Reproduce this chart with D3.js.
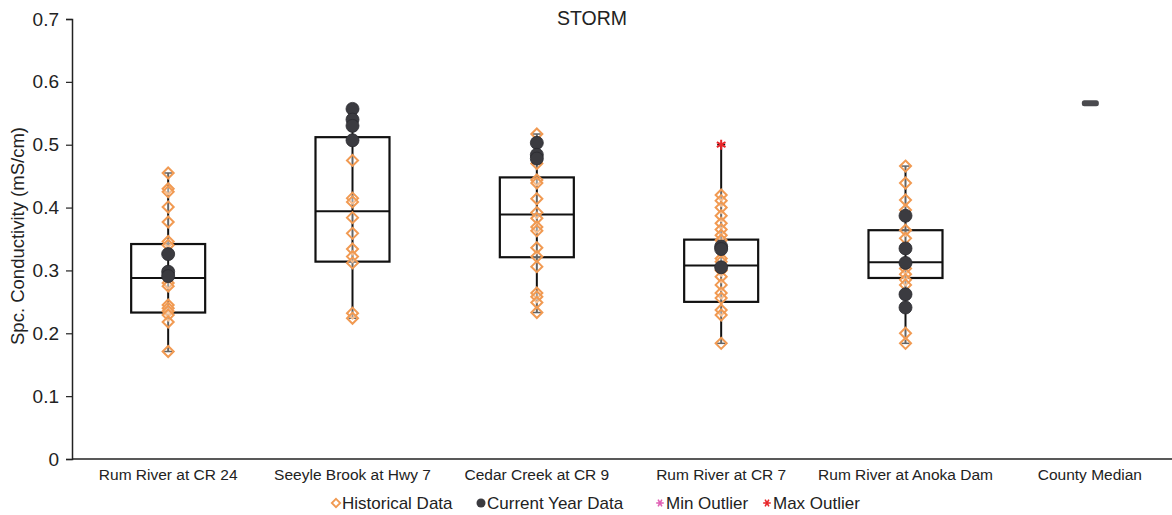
<!DOCTYPE html>
<html>
<head>
<meta charset="utf-8">
<script src="https://cdn.jsdelivr.net/npm/d3@7"></script>
<style>
  body { margin: 0; background: #fff; }
  text { font-family: "Liberation Sans", Arial, sans-serif; fill: #222; }
</style>
</head>
<body>
<svg width="1172" height="515"></svg>
<script>
// sites along the x axis
let sites = ["Rum River at CR 24", "Seeyle Brook at Hwy 7", "Cedar Creek at CR 9",
    "Rum River at CR 7", "Rum River at Anoka Dam", "County Median"];

// box stats per site: [whisker low, q1, median, q3, whisker high]
let boxStats = [
    [0.171, 0.233, 0.288, 0.342, 0.455],
    [0.224, 0.314, 0.394, 0.512, 0.557],
    [0.233, 0.321, 0.389, 0.448, 0.517],
    [0.184, 0.250, 0.308, 0.349, 0.500],
    [0.184, 0.288, 0.313, 0.364, 0.466]
];

// historical readings
let historical = [
    [0.455, 0.430, 0.425, 0.401, 0.377, 0.346, 0.340, 0.280, 0.275, 0.245, 0.240, 0.235, 0.229, 0.218, 0.171],
    [0.475, 0.415, 0.409, 0.384, 0.359, 0.334, 0.322, 0.312, 0.232, 0.224],
    [0.517, 0.470, 0.444, 0.439, 0.414, 0.392, 0.383, 0.369, 0.363, 0.336, 0.322, 0.306, 0.264, 0.258, 0.249, 0.233],
    [0.420, 0.411, 0.400, 0.387, 0.375, 0.365, 0.356, 0.348, 0.319, 0.314, 0.300, 0.290, 0.277, 0.264, 0.256, 0.237, 0.229, 0.184],
    [0.466, 0.439, 0.412, 0.396, 0.364, 0.351, 0.303, 0.294, 0.285, 0.277, 0.200, 0.184]
];

// current year readings
let current = [
    [0.326, 0.298, 0.291],
    [0.557, 0.540, 0.530, 0.507],
    [0.503, 0.484, 0.478],
    [0.338, 0.334, 0.305],
    [0.387, 0.335, 0.312, 0.262, 0.241]
];

let maxOutliers = [[], [], [], [0.500], []];
let countyMedian = 0.566;

let yTicks = [0, 0.1, 0.2, 0.3, 0.4, 0.5, 0.6, 0.7];

let svg = d3.select("svg");

let x = d3.scaleBand().domain(sites).range([76, 1182]);
let y = d3.scaleLinear().domain([0, 0.7]).range([459, 19]);

let orange = "#f19a52";
let dark = "#3b3b40";

// axes
let yAxis = svg.append("g")
    .attr("transform", "translate(72,0)")
    .call(d3.axisLeft(y).tickValues(yTicks).tickSize(6).tickPadding(7).tickFormat(d => d === 0 ? "0" : d3.format(".1f")(d)));
yAxis.select(".domain").attr("stroke", "#222").attr("stroke-width", 1.5);
yAxis.selectAll("line").attr("stroke", "#222").attr("stroke-width", 1.2);
yAxis.selectAll("text").style("font-size", "19px").attr("fill", "#222");

let xAxis = svg.append("g")
    .attr("transform", "translate(0,459)")
    .call(d3.axisBottom(x).tickSize(0).tickPadding(10));
xAxis.select(".domain").attr("d", "M72,0H1172").attr("stroke", "#222").attr("stroke-width", 1.5);
xAxis.selectAll("text").style("font-size", "15.5px").attr("fill", "#222");

// title and axis label
svg.append("text").attr("x", 592).attr("y", 25).attr("text-anchor", "middle")
    .style("font-size", "19.5px").text("STORM");
svg.append("text").attr("transform", "translate(24,236) rotate(-90)")
    .attr("text-anchor", "middle").style("font-size", "18.5px")
    .text("Spc. Conductivity (mS/cm)");

let boxW = 74;

boxStats.forEach(function(s, i) {
    let cx = x(sites[i]) + x.bandwidth() / 2;
    let g = svg.append("g");
    // whisker
    g.append("line").attr("x1", cx).attr("x2", cx).attr("y1", y(s[0])).attr("y2", y(s[4]))
        .attr("stroke", "#111").attr("stroke-width", 2);
    [s[0], s[4]].forEach(function(v) {
        g.append("line").attr("x1", cx - 4).attr("x2", cx + 4).attr("y1", y(v)).attr("y2", y(v))
            .attr("stroke", "#111").attr("stroke-width", 1.5);
    });
    // box
    g.append("rect").attr("x", cx - boxW / 2).attr("width", boxW)
        .attr("y", y(s[3])).attr("height", y(s[1]) - y(s[3]))
        .attr("fill", "none").attr("stroke", "#111").attr("stroke-width", 2.2);
    g.append("line").attr("x1", cx - boxW / 2).attr("x2", cx + boxW / 2)
        .attr("y1", y(s[2])).attr("y2", y(s[2])).attr("stroke", "#111").attr("stroke-width", 2);

    // historical diamonds
    g.selectAll(".hist").data(historical[i]).enter().append("path")
        .attr("class", "hist")
        .attr("d", d3.symbol(d3.symbolDiamond2, 78))
        .attr("transform", d => "translate(" + cx + "," + y(d) + ")")
        .attr("fill", "rgba(255,255,255,0.35)").attr("stroke", orange).attr("stroke-width", 2);

    // current year circles
    g.selectAll(".cur").data(current[i]).enter().append("circle")
        .attr("class", "cur")
        .attr("cx", cx).attr("cy", d => y(d)).attr("r", 6.5)
        .attr("fill", dark).attr("stroke", "#2a2a2e").attr("stroke-width", 0.8);

    // max outliers
    g.selectAll(".maxo").data(maxOutliers[i]).enter().append("path")
        .attr("class", "maxo")
        .attr("d", d3.symbol(d3.symbolAsterisk, 70))
        .attr("transform", d => "translate(" + cx + "," + y(d) + ")")
        .attr("fill", "none").attr("stroke", "#e8262a").attr("stroke-width", 2);
});

// county median bar
let cmx = x("County Median") + x.bandwidth() / 2;
svg.append("rect").attr("x", cmx - 8).attr("width", 17)
    .attr("y", y(countyMedian) - 3).attr("height", 6).attr("rx", 2.5)
    .attr("fill", "#4a4a4e");

// legend
let legendItems = [
    { label: "Historical Data", type: "diamond", x: 336 },
    { label: "Current Year Data", type: "circle", x: 481 },
    { label: "Min Outlier", type: "minAst", x: 660 },
    { label: "Max Outlier", type: "maxAst", x: 767 }
];
let lg = svg.append("g").attr("transform", "translate(0,503)");
legendItems.forEach(function(it) {
    let item = lg.append("g").attr("transform", "translate(" + it.x + ",0)");
    if (it.type === "diamond") {
        item.append("path").attr("d", d3.symbol(d3.symbolDiamond2, 45))
            .attr("fill", "#fff").attr("stroke", orange).attr("stroke-width", 1.8);
    } else if (it.type === "circle") {
        item.append("circle").attr("r", 4.5).attr("fill", dark);
    } else {
        item.append("path").attr("d", d3.symbol(d3.symbolAsterisk, 40))
            .attr("transform", "rotate(30)")
            .attr("fill", "none").attr("stroke", it.type === "minAst" ? "#e05fb4" : "#e8262a")
            .attr("stroke-width", 1.6);
    }
    item.append("text").attr("x", 6).attr("y", 6).style("font-size", "17px").text(it.label);
});
</script>
</body>
</html>
